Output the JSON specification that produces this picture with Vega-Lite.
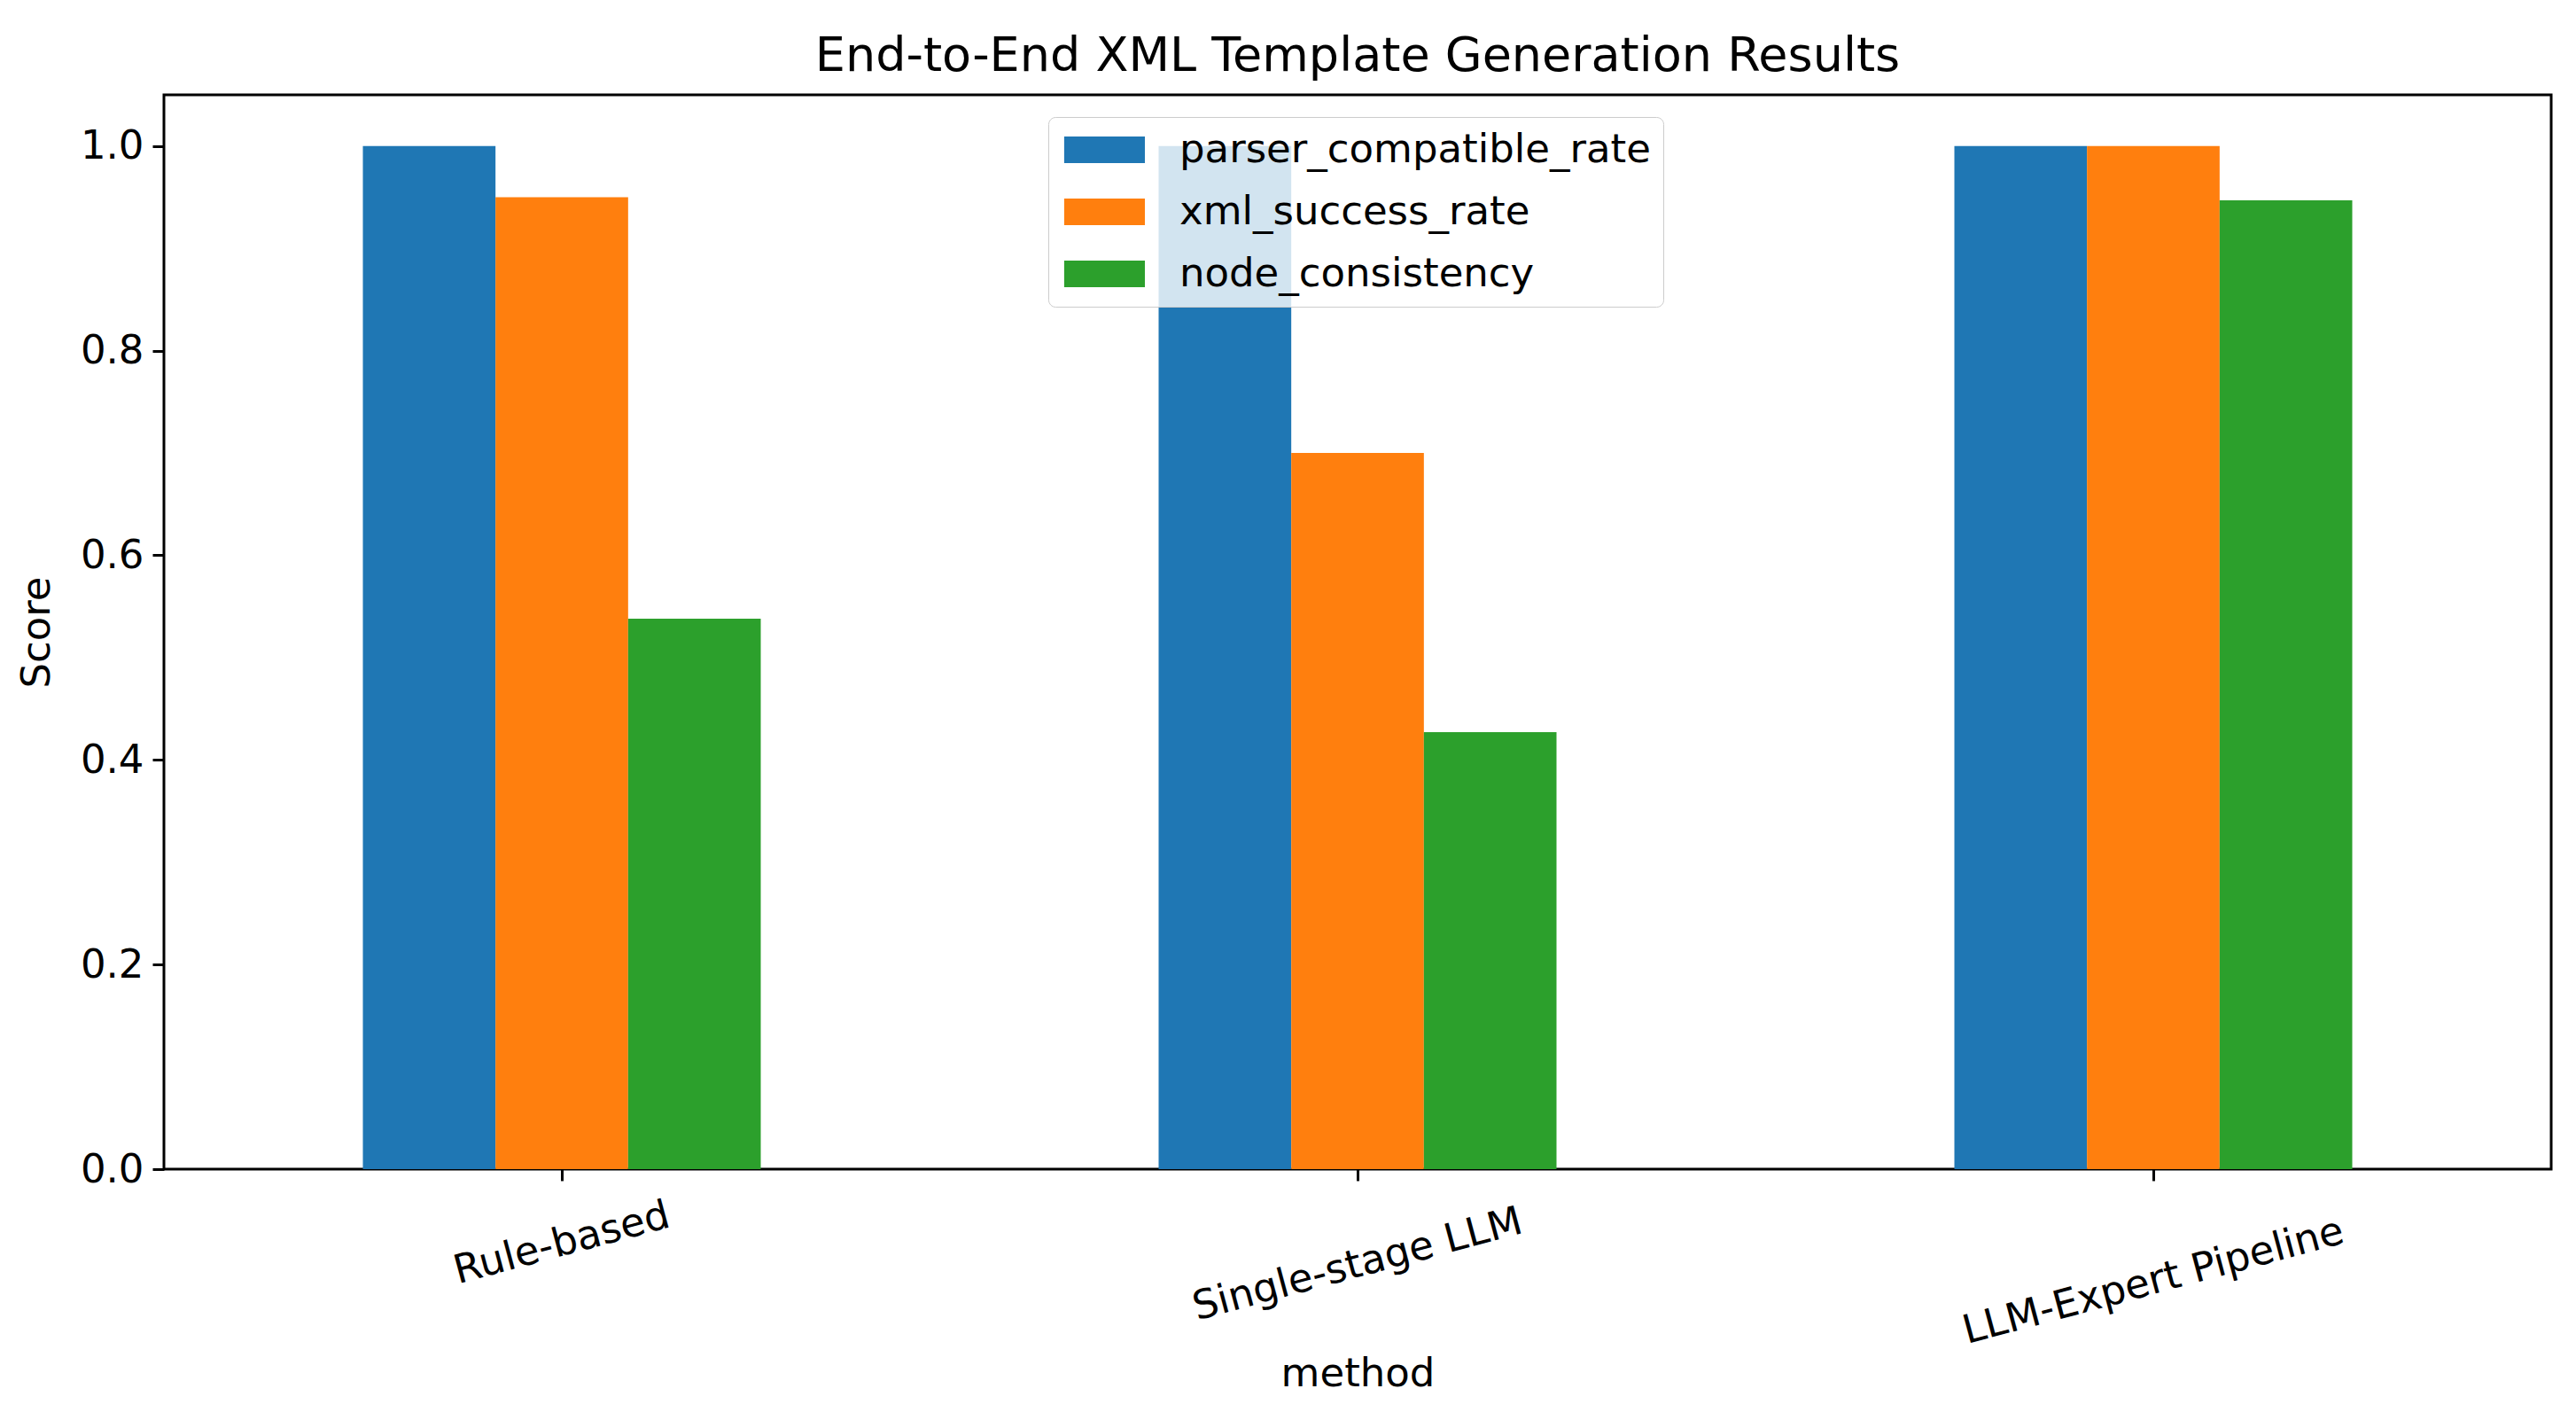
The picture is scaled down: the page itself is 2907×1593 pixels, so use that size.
{
  "$schema": "https://vega.github.io/schema/vega-lite/v6.json",
  "autosize": {"type": "none"},
  "padding": {"left": 185, "top": 107, "right": 28, "bottom": 274},
  "width": 2694,
  "height": 1212,
  "background": "white",
  "title": {"text": "End-to-End XML Template Generation Results", "fontSize": 54, "font": "DejaVu Sans", "fontWeight": "normal", "color": "black", "baseline": "alphabetic", "offset": 27, "dy": 54, "anchor": "middle"},
  "config": {
    "font": "DejaVu Sans",
    "view": {"stroke": "black", "strokeWidth": 3},
    "axis": {"domain": false, "grid": false, "labelColor": "black", "titleColor": "black", "tickColor": "black", "tickWidth": 3, "tickSize": 13, "labelFontSize": 45, "titleFontSize": 45, "titleFontWeight": "normal", "labelFont": "DejaVu Sans", "titleFont": "DejaVu Sans", "labelLimit": 2000}
  },
  "data": {"values": [
    {"method": "Rule-based", "metric": "parser_compatible_rate", "score": 1.0},
    {"method": "Rule-based", "metric": "xml_success_rate", "score": 0.95},
    {"method": "Rule-based", "metric": "node_consistency", "score": 0.538},
    {"method": "Single-stage LLM", "metric": "parser_compatible_rate", "score": 1.0},
    {"method": "Single-stage LLM", "metric": "xml_success_rate", "score": 0.70},
    {"method": "Single-stage LLM", "metric": "node_consistency", "score": 0.427},
    {"method": "LLM-Expert Pipeline", "metric": "parser_compatible_rate", "score": 1.0},
    {"method": "LLM-Expert Pipeline", "metric": "xml_success_rate", "score": 1.0},
    {"method": "LLM-Expert Pipeline", "metric": "node_consistency", "score": 0.947}
  ]},
  "mark": {"type": "bar"},
  "encoding": {
    "x": {
      "field": "method", "type": "nominal",
      "sort": ["Rule-based", "Single-stage LLM", "LLM-Expert Pipeline"],
      "scale": {"paddingInner": 0.5, "paddingOuter": 0.25},
      "axis": {
        "title": "method",
        "titleY": 230, "titleBaseline": "middle",
        "labelAngle": -15, "labelAlign": "center", "labelBaseline": "middle",
        "labelLimit": 2000,
        "labelPadding": {"condition": [
          {"test": "datum.value === 'Rule-based'", "value": 70},
          {"test": "datum.value === 'Single-stage LLM'", "value": 94}
        ], "value": 113}
      }
    },
    "xOffset": {
      "field": "metric", "type": "nominal",
      "sort": ["parser_compatible_rate", "xml_success_rate", "node_consistency"],
      "scale": {"paddingInner": 0, "paddingOuter": 0}
    },
    "y": {
      "field": "score", "type": "quantitative",
      "scale": {"domain": [0, 1.05], "nice": false, "zero": true},
      "axis": {"title": "Score", "values": [0, 0.2, 0.4, 0.6, 0.8, 1.0], "format": ".1f", "labelPadding": 10, "titleX": -144, "titleBaseline": "middle", "titleAlign": "center"}
    },
    "color": {
      "field": "metric", "type": "nominal",
      "scale": {"domain": ["parser_compatible_rate", "xml_success_rate", "node_consistency"], "range": ["#1f77b4", "#ff7f0e", "#2ca02c"]},
      "legend": {
        "title": null,
        "orient": "none",
        "legendX": 998,
        "legendY": 25,
        "symbolType": "M-0.83,-0.65H3.13V0.65H-0.83Z",
        "symbolSize": 2116,
        "symbolStrokeWidth": 0,
        "symbolOpacity": 1,
        "labelFontSize": 45,
        "labelFont": "DejaVu Sans",
        "labelColor": "black",
        "labelOffset": 88,
        "rowPadding": 24,
        "padding": 14,
        "strokeColor": "#cccccc",
        "fillColor": "rgba(255,255,255,0.8)",
        "cornerRadius": 8,
        "labelLimit": 2000
      }
    }
  }
}
